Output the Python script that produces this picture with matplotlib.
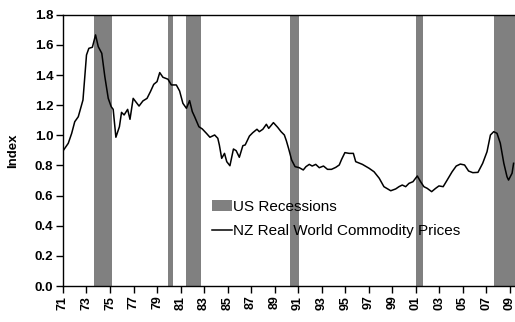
import matplotlib
matplotlib.use('Agg')
import matplotlib.pyplot as plt
from matplotlib.patches import Patch
from matplotlib.lines import Line2D

plt.rcParams['font.family'] = ['Liberation Sans', 'DejaVu Sans']

# NZ real world commodity price index (decimal year, index)
years = [1971.0, 1971.45, 1971.74, 1972.0, 1972.3, 1972.7, 1973.0, 1973.2, 1973.5, 1973.77,
         1974.0, 1974.3, 1974.56, 1974.85, 1975.1, 1975.27, 1975.5, 1975.8, 1975.98, 1976.2,
         1976.5, 1976.7, 1976.97, 1977.47, 1977.8, 1978.15, 1978.44, 1978.72, 1979.0, 1979.23,
         1979.5, 1979.93, 1980.22, 1980.64, 1980.92, 1981.2, 1981.5, 1981.77, 1982.0, 1982.2,
         1982.56, 1982.85, 1983.2, 1983.5, 1983.9, 1984.17, 1984.3, 1984.5, 1984.74, 1984.93,
         1985.2, 1985.5, 1985.73, 1986.0, 1986.3, 1986.5, 1986.86, 1987.14, 1987.5, 1987.7,
         1988.0, 1988.3, 1988.5, 1988.9, 1989.26, 1989.55, 1989.83, 1990.0, 1990.2, 1990.45,
         1990.74, 1991.1, 1991.44, 1991.67, 1991.95, 1992.2, 1992.5, 1992.8, 1993.16, 1993.5,
         1993.84, 1994.2, 1994.5, 1994.7, 1994.98, 1995.34, 1995.7, 1995.9, 1996.47, 1997.04,
         1997.46, 1997.9, 1998.3, 1998.88, 1999.3, 1999.58, 1999.86, 2000.15, 2000.43, 2000.77,
         2001.14, 2001.42, 2001.7, 2001.98, 2002.36, 2002.7, 2002.98, 2003.34, 2003.68, 2004.1,
         2004.45, 2004.8, 2005.16, 2005.5, 2005.86, 2006.3, 2006.7, 2007.07, 2007.36, 2007.64,
         2007.92, 2008.2, 2008.5, 2008.77, 2008.9, 2009.2, 2009.33]
index = [0.896, 0.947, 1.013, 1.09, 1.123, 1.234, 1.533, 1.577, 1.584, 1.666,
         1.588, 1.544, 1.389, 1.245, 1.19, 1.172, 0.987, 1.057, 1.152, 1.135,
         1.172, 1.106, 1.245, 1.194, 1.228, 1.245, 1.29, 1.338, 1.356, 1.416,
         1.385, 1.372, 1.334, 1.334, 1.294, 1.212, 1.179, 1.23, 1.157, 1.123,
         1.057, 1.042, 1.013, 0.987, 1.002, 0.98, 0.936, 0.847, 0.88, 0.825,
         0.798, 0.909, 0.898, 0.854, 0.931, 0.936, 0.995, 1.017, 1.04, 1.024,
         1.04, 1.073, 1.046, 1.084, 1.053, 1.024, 1.002, 0.964, 0.91, 0.836,
         0.792, 0.785, 0.77, 0.792, 0.807, 0.796, 0.807, 0.785, 0.796, 0.774,
         0.774, 0.787, 0.803, 0.84, 0.885, 0.88, 0.88, 0.825, 0.807, 0.781,
         0.758, 0.715, 0.659, 0.632, 0.644, 0.659, 0.67, 0.659, 0.681, 0.692,
         0.73, 0.692, 0.659, 0.648, 0.626, 0.648, 0.664, 0.659, 0.703, 0.758,
         0.796, 0.809, 0.803, 0.763, 0.752, 0.754, 0.814, 0.891, 1.002, 1.024,
         1.013, 0.947, 0.814, 0.725, 0.703, 0.748, 0.814]

# US recessions (start, end)
recessions = [(1973.63, 1975.13), (1979.9, 1980.4), (1981.43, 1982.7),
              (1990.34, 1991.1), (2001.03, 2001.6), (2007.7, 2009.5)]

tick_years = list(range(1971, 2010, 2))
y_ticks = [0.0, 0.2, 0.4, 0.6, 0.8, 1.0, 1.2, 1.4, 1.6, 1.8]

fig = plt.figure(figsize=(5.15, 3.22), dpi=100)
ax = fig.add_axes([0.1223, 0.1118, 0.8777, 0.8425])

for start, end in recessions:
	ax.axvspan(start, end, color='#808080', lw=0, zorder=1)
ax.plot(years, index, color='black', lw=1.1, zorder=3)

ax.set_xlim(1971, 2009.45)
ax.set_ylim(0, 1.8)
ax.set_xticks(tick_years)
ax.set_xticklabels(['%02d' % (y % 100) for y in tick_years], rotation=90,
                   fontsize=9, fontweight='bold')
ax.set_yticks(y_ticks)
ax.set_yticklabels(['%.1f' % v for v in y_ticks], fontsize=9.5, fontweight='bold')
ax.tick_params(direction='out', length=5, width=1, color='black', pad=2)
ax.spines['right'].set_visible(False)
for side in ['left', 'top', 'bottom']:
	ax.spines[side].set_linewidth(1)

ax.set_ylabel('Index', fontsize=9.5, fontweight='bold')
ax.yaxis.set_label_coords(-0.097, 0.5)

handles = [Patch(facecolor='#808080', edgecolor='none'),
           Line2D([], [], color='black', lw=1.1)]
labels = ['US Recessions', 'NZ Real World Commodity Prices']
ax.legend(handles, labels, loc='center left', bbox_to_anchor=(0.329, 0.247),
          frameon=False, fontsize=11, borderpad=0, borderaxespad=0,
          handlelength=1.3, handleheight=0.7, handletextpad=0.1, labelspacing=0.65)

fig.savefig('out.png', dpi=100)
